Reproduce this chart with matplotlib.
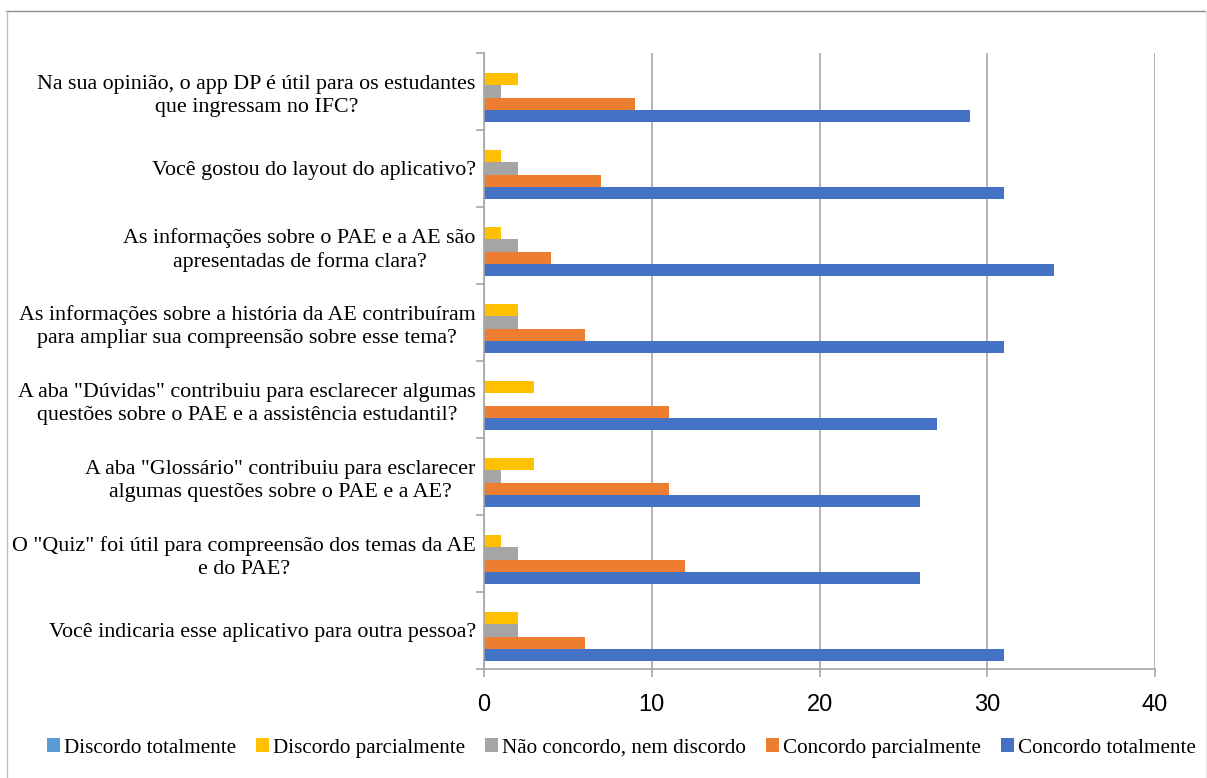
import matplotlib
matplotlib.use("Agg")
import matplotlib.pyplot as plt
import numpy as np
from matplotlib.lines import Line2D

categories = [
    "Na sua opinião, o app DP é útil para os estudantes\nque ingressam no IFC?",
    "Você gostou do layout do aplicativo?",
    "As informações sobre o PAE e a AE são\napresentadas de forma clara?",
    "As informações sobre a história da AE contribuíram\npara ampliar sua compreensão sobre esse tema?",
    "A aba \"Dúvidas\" contribuiu para esclarecer algumas\nquestões sobre o PAE e a assistência estudantil?",
    "A aba \"Glossário\" contribuiu para esclarecer\nalgumas questões sobre o PAE e a AE?",
    "O \"Quiz\" foi útil para compreensão dos temas da AE\ne do PAE?",
    "Você indicaria esse aplicativo para outra pessoa?",
]
series_names = ["Discordo totalmente", "Discordo parcialmente",
                "Não concordo, nem discordo", "Concordo parcialmente",
                "Concordo totalmente"]
discordo_totalmente = [0, 0, 0, 0, 0, 0, 0, 0]
discordo_parcialmente = [2, 1, 1, 2, 3, 3, 1, 2]
neutro = [1, 2, 2, 2, 0, 1, 2, 2]
concordo_parcialmente = [9, 7, 4, 6, 11, 11, 12, 6]
concordo_totalmente = [29, 31, 34, 31, 27, 26, 26, 31]
x_ticks = [0, 10, 20, 30, 40]

colors = ["#5B9BD5", "#FFC000", "#A5A5A5", "#ED7D31", "#4472C4"]
values = [discordo_totalmente, discordo_parcialmente, neutro,
          concordo_parcialmente, concordo_totalmente]

fig = plt.figure(figsize=(12.07, 7.78), dpi=100)
W, H = 1207, 778
ax = fig.add_axes([484 / W, 1 - 669 / H, (1155 - 484) / W, (669 - 53) / H])

n = len(categories)
ypos = np.arange(n)[::-1].astype(float)
bh = 0.8 / 5
for k, (name, vals, c) in enumerate(zip(series_names, values, colors)):
    offs = 0.4 - bh * (k + 0.5)
    ax.barh(ypos + offs, vals, height=bh, color=c, label=name, zorder=3)

ax.set_xlim(0, 40)
ax.set_ylim(-0.5, n - 0.5)
ax.set_xticks(x_ticks)
ax.set_xticklabels([str(t) for t in x_ticks], fontsize=17, family="Liberation Sans")
ax.set_yticks(ypos)
ax.set_yticklabels(categories, fontsize=15.8, family="Liberation Serif",
                   ha="right", multialignment="center", linespacing=1.28)
ax.tick_params(axis="y", length=0, pad=6)
ax.set_yticks(np.arange(n + 1) - 0.5, minor=True)
ax.tick_params(axis="y", which="minor", length=6, color="#A6A6A6", width=1.2)
ax.tick_params(axis="x", length=6, color="#A6A6A6", width=1.2, pad=12)
ax.grid(axis="x", color="#A6A6A6", linewidth=1.2, zorder=0)
for s in ["top", "right"]:
    ax.spines[s].set_visible(False)
for s in ["left", "bottom"]:
    ax.spines[s].set_color("#A6A6A6")
    ax.spines[s].set_linewidth(1.2)
    ax.spines[s].set_zorder(4)

fig.legend(loc="center", bbox_to_anchor=(621.5 / W, 1 - 748 / H), ncol=5,
           frameon=False, prop={"family": "Liberation Serif", "size": 15.2},
           handlelength=0.6, handleheight=0.6, handletextpad=0.2,
           columnspacing=0.95)

# chart border
fig.add_artist(Line2D([6 / W, 1205 / W], [1 - 10.5 / H, 1 - 10.5 / H],
                      transform=fig.transFigure, color="#8C8C8C", linewidth=1))
fig.add_artist(Line2D([6.5 / W, 6.5 / W], [0, 1 - 10.5 / H],
                      transform=fig.transFigure, color="#BFBFBF", linewidth=1))
fig.add_artist(Line2D([1206 / W, 1206 / W], [0, 1 - 10.5 / H],
                      transform=fig.transFigure, color="#E6E6E6", linewidth=1))

fig.savefig("out.png", dpi=100)
